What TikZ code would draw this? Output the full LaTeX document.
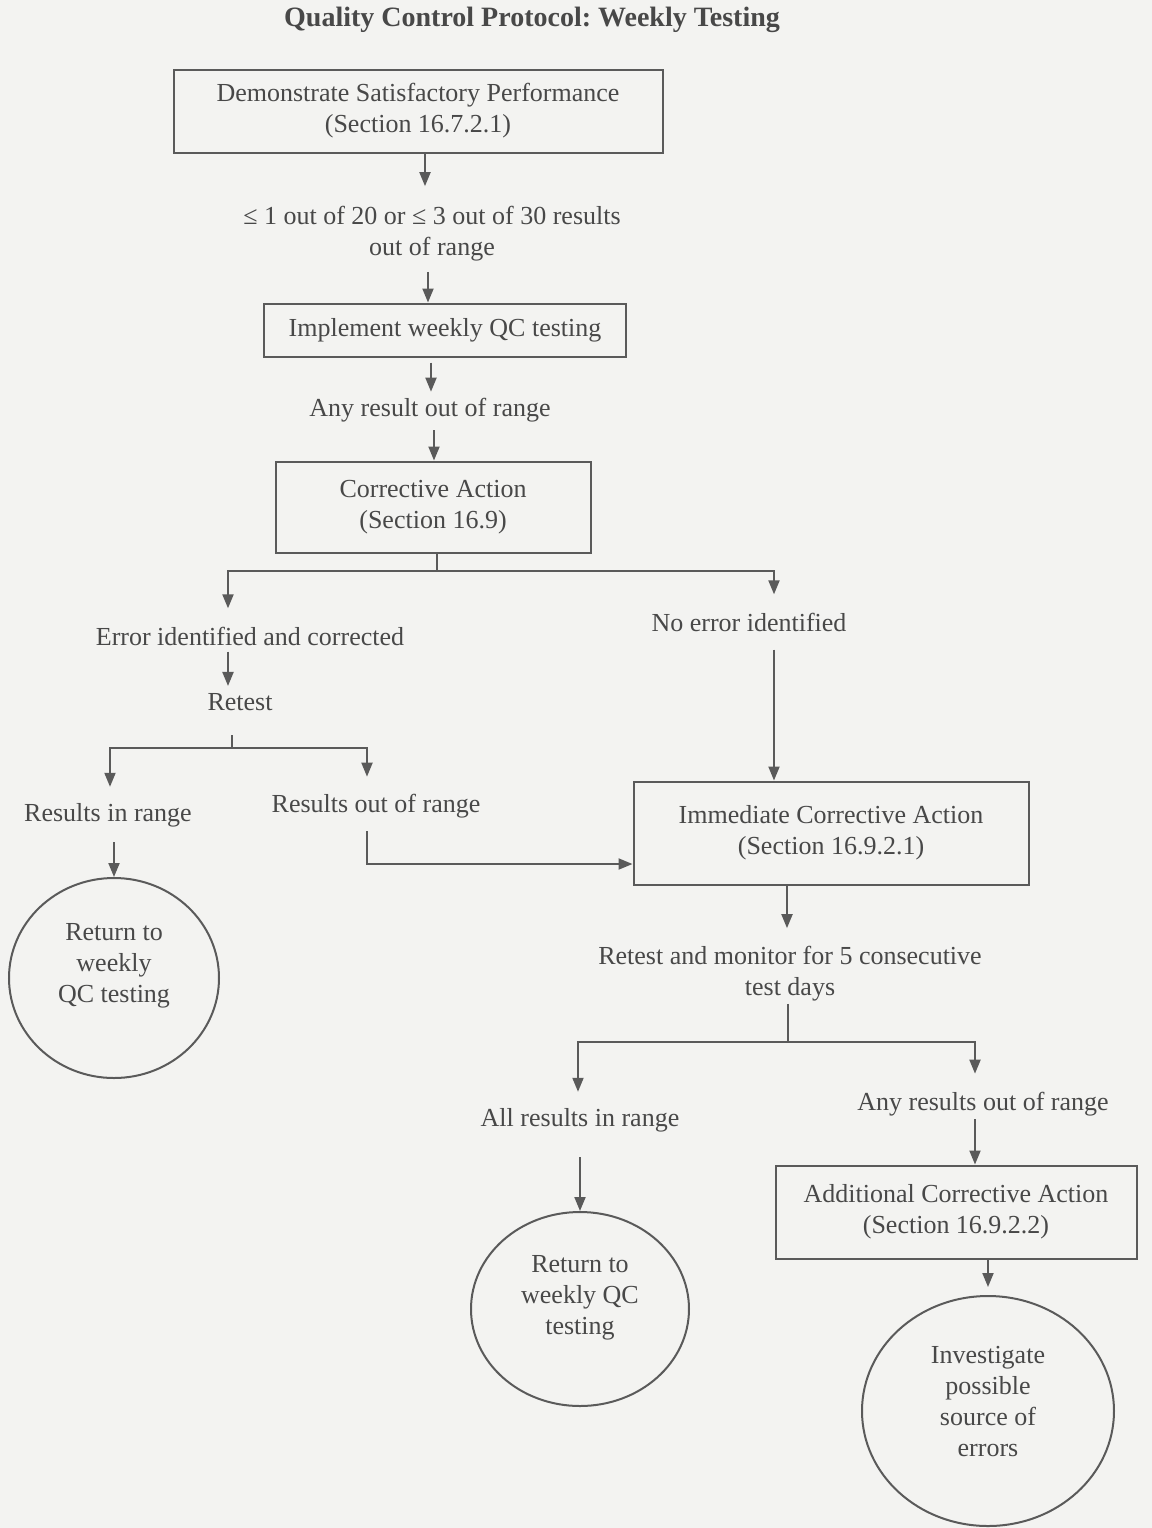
\documentclass[tikz,border=0pt]{standalone}
\usepackage{fontspec}
\setmainfont{Liberation Serif}
\usetikzlibrary{arrows.meta,shapes.geometric}
\definecolor{bg}{RGB}{243,243,241}
\definecolor{ink}{RGB}{72,72,72}
\definecolor{edge}{RGB}{90,90,90}
\frenchspacing
\begin{document}
\begin{tikzpicture}[x=0.5pt,y=-0.5pt,
  every node/.style={font=\fontsize{13}{15.5}\selectfont, text=ink},
  box/.style={draw=edge, line width=1pt, align=center, inner sep=0pt},
  lbl/.style={align=center, inner sep=0pt},
  circ/.style={draw=edge, line width=1pt, ellipse, align=center, inner sep=0pt},
  arr/.style={draw=edge, line width=1pt, -{Triangle[length=7pt,width=5.5pt]}},
  ln/.style={draw=edge, line width=1pt},
]
\fill[bg] (0,0) rectangle (1152,1528);
\useasboundingbox (0,0) rectangle (1152,1528);

% title
\node[font=\fontsize{14}{17}\selectfont\bfseries] (title) at (532,20) {Quality Control Protocol: Weekly Testing};

% nodes
\node[box, minimum width=244.5pt, minimum height=41.5pt] (b1) at (418,111) {Demonstrate Satisfactory Performance\\(Section 16.7.2.1)};
\node[lbl] (l1) at (432,234) {≤ 1 out of 20 or ≤ 3 out of 30 results\\out of range};
\node[box, minimum width=181pt, minimum height=26.5pt] (b2) at (445,330) {Implement weekly QC testing};
\node[lbl] (l2) at (430,410) {Any result out of range};
\node[box, minimum width=157.5pt, minimum height=45.5pt] (b3) at (433,507) {Corrective Action\\(Section 16.9)};
\node[lbl] (l3) at (250,636) {Error identified and corrected};
\node[lbl] (l4) at (749,622) {No error identified};
\node[lbl] (l5) at (240,702) {Retest};
\node[lbl] (l6) at (108,815) {Results in range};
\node[lbl] (l7) at (376,806) {Results out of range};
\node[circ, minimum width=105pt, minimum height=100pt] (c1) at (114,978) {Return to\\weekly\\QC testing\\~};
\node[box, minimum width=197.5pt, minimum height=51.5pt] (b4) at (831,833) {Immediate Corrective Action\\(Section 16.9.2.1)};
\node[lbl] (l8) at (790,974) {Retest and monitor for 5 consecutive\\test days};
\node[lbl] (l9) at (580,1120) {All results in range};
\node[lbl] (l10) at (983,1104) {Any results out of range};
\node[box, minimum width=180.5pt, minimum height=46.5pt] (b5) at (956,1212) {Additional Corrective Action\\(Section 16.9.2.2)};
\node[circ, minimum width=109pt, minimum height=97pt] (c2) at (580,1309) {Return to\\weekly QC\\testing\\[-1pt]~};
\node[circ, minimum width=126pt, minimum height=115pt] (c3) at (988,1411) {Investigate\\possible\\source of\\errors\\[-6pt]~};

% helper coordinates
\coordinate (x425) at (425,0);
\coordinate (x428) at (428,0);
\coordinate (x431) at (431,0);
\coordinate (x434) at (434,0);
\coordinate (j1) at (437,571);
\coordinate (xL1) at (228,0);
\coordinate (xR1) at (774,0);
\coordinate (j2) at (232,748);
\coordinate (xL2) at (110,0);
\coordinate (xR2) at (367,0);
\coordinate (k) at (367,864);
\coordinate (x787) at (787,0);
\coordinate (j3) at (788,1042);
\coordinate (xL3) at (578,0);
\coordinate (xR3) at (975,0);

% connectors
\draw[arr, shorten >=10pt] (b1.south -| x425) -- (l1.north -| x425);
\draw[arr, shorten <=5pt] (l1.south -| x428) -- (b2.north -| x428);
\draw[arr, shorten <=2.5pt, shorten >=3pt] (b2.south -| x431) -- (l2.north -| x431);
\draw[arr, shorten <=4pt] (l2.south -| x434) -- (b3.north -| x434);

\draw[ln] (b3.south -| j1) -- (j1);
\draw[arr, shorten >=9pt] (j1) -| (l3.north -| xL1);
\draw[arr, shorten >=9pt] (j1) -| (l4.north -| xR1);

\draw[arr, shorten <=3pt, shorten >=3.5pt] (l3.south -| xL1) -- (l5.north -| xL1);

\draw[ln, shorten <=12pt] (l5.south -| j2) -- (j2);
\draw[arr, shorten >=8pt] (j2) -| (l6.north -| xL2);
\draw[arr, shorten >=8.5pt] (j2) -| (l7.north -| xR2);

\draw[arr, shorten <=7.5pt] (l6.south -| c1.north) -- (c1.north);
\draw[arr, shorten <=6.5pt] (l7.south -| k) -- (k) -- (k -| b4.west);
\draw[arr, shorten <=9pt] (l4.south -| xR1) -- (b4.north -| xR1);

\draw[arr, shorten >=9pt] (b4.south -| x787) -- (l8.north -| x787);
\draw[ln, shorten <=1pt] (l8.south -| j3) -- (j3);
\draw[arr, shorten >=8pt] (j3) -| (l9.north -| xL3);
\draw[arr, shorten >=9pt] (j3) -| (l10.north -| xR3);

\draw[arr, shorten <=12.5pt] (l9.south -| c2.north) -- (c2.north);
\draw[arr, shorten <=1.5pt] (l10.south -| xR3) -- (b5.north -| xR3);
\draw[arr, shorten >=4pt] (b5.south -| c3.north) -- (c3.north);
\end{tikzpicture}
\end{document}
